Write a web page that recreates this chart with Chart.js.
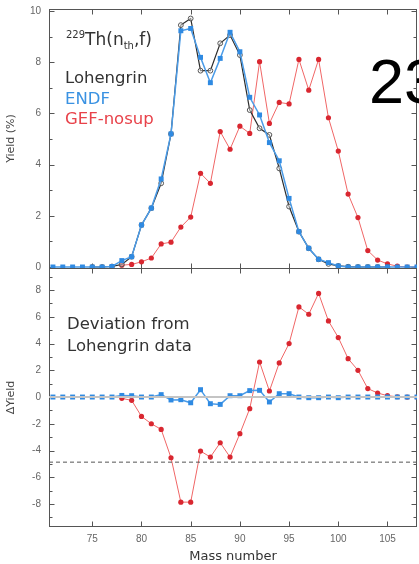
<!DOCTYPE html>
<html>
<head>
<meta charset="utf-8">
<script src="https://cdn.jsdelivr.net/npm/chart.js@4.4.1/dist/chart.umd.min.js"></script>
<style>
  html, body { margin: 0; padding: 0; background: #fff; overflow: hidden; }
  #wrap { position: relative; width: 419px; height: 564px; overflow: hidden; }
  #wrap canvas { position: absolute; left: 0; top: 0; }
  .note {
    position: absolute;
    font-family: "DejaVu Sans", sans-serif;
    font-size: 16.5px;
    line-height: 1;
    color: #333;
    white-space: nowrap;
  }
  .note sup, .note sub { font-size: 10px; line-height: 0; }
  .big {
    position: absolute;
    left: 369px;
    top: 50px;
    font-family: "Liberation Sans", Arial, sans-serif;
    font-size: 63px;
    line-height: 1;
    color: #000;
  }
</style>
</head>
<body>
<div id="wrap">
  <canvas id="fissionChart" width="419" height="564"></canvas>
  <div class="note" style="left:66px; top:31px; font-size:17px;"><sup>229</sup>Th(n<sub>th</sub>,f)</div>
  <div class="note" style="left:65px; top:70px;">Lohengrin</div>
  <div class="note" style="left:65px; top:91px; color:#3a92e2;">ENDF</div>
  <div class="note" style="left:65px; top:111px; color:#e8424a;">GEF-nosup</div>
  <div class="note" style="left:67px; top:316px;">Deviation from</div>
  <div class="note" style="left:67px; top:338px;">Lohengrin data</div>
  <div class="big">23</div>
</div>
<script>
// mass numbers A = 71 ... 108
const masses = [71, 72, 73, 74, 75, 76, 77, 78, 79, 80, 81, 82, 83, 84, 85, 86, 87, 88, 89,
  90, 91, 92, 93, 94, 95, 96, 97, 98, 99, 100, 101, 102, 103, 104, 105, 106, 107, 108];

// yields (%)
const endfYield = [0, 0, 0, 0, 0, 0, 0.02, 0.25, 0.4, 1.64, 2.3, 3.44, 5.2, 9.23, 9.32, 8.19, 7.2, 8.15, 9.17,
  8.41, 6.63, 5.94, 4.86, 4.15, 2.68, 1.38, 0.73, 0.3, 0.17, 0.04, 0, 0, 0, 0, 0, 0, 0, 0];
const lohengrinYield = [null, null, null, null, 0, 0, 0.02, 0.1, 0.4, 1.64, 2.3, 3.27, 5.2, 9.45, 9.71, 7.67, 7.67, 8.74, 9.06,
  8.28, 6.13, 5.42, 5.16, 3.85, 2.36, 1.38, 0.73, 0.3, 0.12, 0.04, 0.01, 0, 0, 0, 0, null, null, null];
const gefYield = [null, null, null, null, null, null, null, 0.07, 0.1, 0.2, 0.35, 0.9, 0.97, 1.56, 1.95, 3.66, 3.27, 5.29, 4.6,
  5.5, 5.22, 8.02, 5.61, 6.43, 6.37, 8.11, 6.91, 8.11, 5.83, 4.53, 2.85, 1.93, 0.64, 0.27, 0.12, 0.03, 0, 0];

// deviation from Lohengrin
const endfDev = [0, 0, 0, 0, 0, 0, 0, 0.12, 0.1, 0, 0, 0.18, -0.22, -0.2, -0.43, 0.55, -0.5, -0.55, 0.1,
  0.1, 0.48, 0.5, -0.37, 0.25, 0.25, 0, -0.05, -0.05, 0, -0.05, 0, 0, 0, 0, 0, 0, 0, 0];
const gefDev = [null, null, null, null, null, null, null, -0.1, -0.25, -1.45, -2.0, -2.42, -4.54, -7.86, -7.86, -4.04, -4.49, -3.42, -4.49,
  -2.74, -0.87, 2.62, 0.45, 2.55, 4.0, 6.74, 6.19, 7.75, 5.69, 4.45, 2.87, 2.0, 0.63, 0.3, 0.1, 0.02, 0, 0];

const devLimit = [-4.87];

const xRange = [70.6, 108];
const yieldRange = [-0.04, 10.08];
const devRange = [-9.72, 9.65];

const xTicks = [75, 80, 85, 90, 95, 100, 105];
const yieldTicks = [0, 2, 4, 6, 8, 10];
const devTicks = [-8, -6, -4, -2, 0, 2, 4, 6, 8];

const colors = {
  endf: "#2f8ae2",
  endfLine: "#4b9ce8",
  lohengrin: "#2b2b2b",
  gef: "#d92730",
  gefLine: "#f06666",
  frame: "#555",
};

const RIGHT_GAP = 2;

const series = (values) => masses.map((m, i) => ({ x: m, y: values[i] }));
const hline = (v) => [{ x: xRange[0], y: v }, { x: xRange[1], y: v }];

// the layout keeps some room right of the x scale; stretch the plot to the edge again
const stretchPlugin = {
  id: "stretch",
  afterLayout(chart) {
    const a = chart.chartArea;
    const gap = chart.width - RIGHT_GAP - a.right;
    if (gap <= 0) return;
    a.right += gap;
    a.width += gap;
    const x = chart.scales.x;
    x.right += gap;
    x.width += gap;
    x.configure();
  },
};

// box around both panels, divider, inward ticks on all sides
const framePlugin = {
  id: "frame",
  beforeDatasetsDraw(chart) {
    const { ctx, chartArea: a, scales } = chart;
    const top = scales.yYield;
    const bot = scales.yDev;
    const mid = Math.round(top.bottom) + 0.5;
    const seg = (x1, y1, x2, y2) => {
      ctx.beginPath();
      ctx.moveTo(x1, y1);
      ctx.lineTo(x2, y2);
      ctx.stroke();
    };
    ctx.save();
    ctx.strokeStyle = colors.frame;
    ctx.lineWidth = 1;
    const L = Math.round(a.left) + 0.5;
    const R = Math.round(a.right) - 0.5;
    const T = Math.round(a.top) + 0.5;
    const B = Math.round(a.bottom) - 0.5;
    ctx.strokeRect(L, T, R - L, B - T);
    seg(L, mid, R, mid);

    [[top, yieldTicks], [bot, devTicks]].forEach(([s, major]) => {
      for (let v = Math.ceil(s.min); v <= Math.floor(s.max); v++) {
        const py = Math.round(s.getPixelForValue(v)) + 0.5;
        const len = major.includes(v) ? 5 : 3;
        seg(L, py, L + len, py);
        seg(R - len, py, R, py);
      }
    });

    xTicks.forEach((v) => {
      const px = Math.round(scales.x.getPixelForValue(v)) + 0.5;
      seg(px, T, px, T + 5);
      seg(px, mid - 5, px, mid + 5);
      seg(px, B - 5, px, B);
    });
    ctx.restore();
  },
};

const tickFont = { family: "'Liberation Sans', sans-serif", size: 10 };
const titleFont = { family: "'DejaVu Sans', sans-serif", size: 11 };

const fitY = (s) => {
  s.width = 49;
  s.paddingTop = 0;
  s.paddingBottom = 0;
};

new Chart(document.getElementById("fissionChart"), {
  type: "line",
  data: {
    datasets: [
      {
        label: "zero",
        data: hline(0),
        yAxisID: "yDev",
        borderColor: "#c4c4c4",
        borderWidth: 2,
        pointRadius: 0,
      },
      {
        label: "limit",
        data: hline(devLimit[0]),
        yAxisID: "yDev",
        borderColor: "#555",
        borderWidth: 1,
        borderDash: [4, 3],
        pointRadius: 0,
      },
      {
        label: "ENDF",
        data: series(endfYield),
        yAxisID: "yYield",
        borderColor: colors.endfLine,
        borderWidth: 1.5,
        pointStyle: "rect",
        pointRadius: 3.5,
        pointBackgroundColor: colors.endf,
        pointBorderColor: colors.endf,
        pointBorderWidth: 0,
      },
      {
        label: "Lohengrin",
        data: series(lohengrinYield),
        yAxisID: "yYield",
        borderColor: colors.lohengrin,
        borderWidth: 1.2,
        pointStyle: "circle",
        pointRadius: 2.4,
        pointBackgroundColor: "rgba(255,255,255,0.45)",
        pointBorderColor: "#555",
        pointBorderWidth: 1,
      },
      {
        label: "GEF-nosup",
        data: series(gefYield),
        yAxisID: "yYield",
        borderColor: colors.gefLine,
        borderWidth: 1,
        pointRadius: 2.6,
        pointBackgroundColor: colors.gef,
        pointBorderWidth: 0,
      },
      {
        label: "ENDF dev",
        data: series(endfDev),
        yAxisID: "yDev",
        borderColor: colors.endfLine,
        borderWidth: 1.5,
        pointStyle: "rect",
        pointRadius: 3.5,
        pointBackgroundColor: colors.endf,
        pointBorderWidth: 0,
      },
      {
        label: "GEF dev",
        data: series(gefDev),
        yAxisID: "yDev",
        borderColor: colors.gefLine,
        borderWidth: 1,
        pointRadius: 2.6,
        pointBackgroundColor: colors.gef,
        pointBorderWidth: 0,
      },
    ],
  },
  options: {
    responsive: false,
    animation: false,
    events: [],
    layout: { padding: { top: 9, right: RIGHT_GAP, left: 0, bottom: 0 } },
    plugins: {
      legend: { display: false },
      tooltip: { enabled: false },
    },
    scales: {
      x: {
        type: "linear",
        min: xRange[0],
        max: xRange[1],
        afterBuildTicks: (s) => { s.ticks = xTicks.map((v) => ({ value: v })); },
        afterFit: (s) => {
          s.height = 37;
          s.paddingLeft = 0;
          s.paddingRight = 0;
        },
        grid: { display: false, drawTicks: false },
        border: { display: false },
        ticks: { font: tickFont, color: "#666", padding: 6, maxRotation: 0 },
        title: {
          display: true,
          text: "Mass number",
          font: { family: "'DejaVu Sans', sans-serif", size: 13 },
          color: "#333",
          padding: { top: 1, bottom: 0 },
        },
      },
      yDev: {
        type: "linear",
        position: "left",
        stack: "panels",
        stackWeight: 1,
        min: devRange[0],
        max: devRange[1],
        afterBuildTicks: (s) => { s.ticks = devTicks.map((v) => ({ value: v })); },
        afterFit: fitY,
        grid: { display: false, drawTicks: false },
        border: { display: false },
        ticks: { font: tickFont, color: "#666", padding: 8 },
        title: { display: true, text: "ΔYield", font: titleFont, color: "#444", padding: { top: 5, bottom: 0 } },
      },
      yYield: {
        type: "linear",
        position: "left",
        stack: "panels",
        stackWeight: 1,
        min: yieldRange[0],
        max: yieldRange[1],
        afterBuildTicks: (s) => { s.ticks = yieldTicks.map((v) => ({ value: v })); },
        afterFit: fitY,
        grid: { display: false, drawTicks: false },
        border: { display: false },
        ticks: { font: tickFont, color: "#666", padding: 8 },
        title: { display: true, text: "Yield (%)", font: titleFont, color: "#444", padding: { top: 5, bottom: 0 } },
      },
    },
  },
  plugins: [stretchPlugin, framePlugin],
});
</script>
</body>
</html>
